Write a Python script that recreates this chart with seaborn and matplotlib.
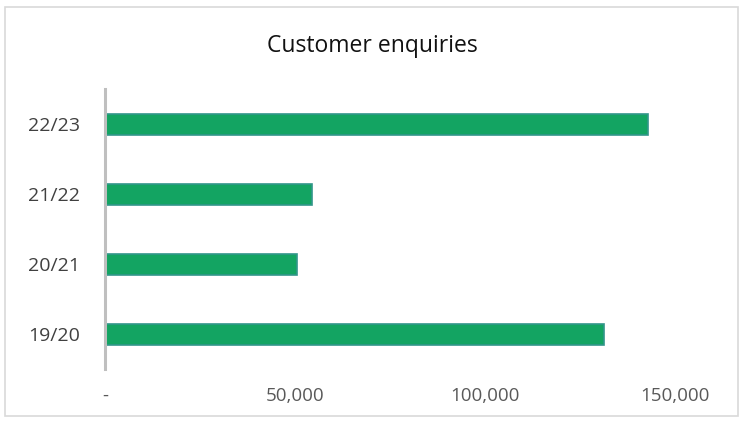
import matplotlib
matplotlib.use("Agg")
import matplotlib.pyplot as plt
import seaborn as sns
import pandas as pd
from matplotlib.ticker import FuncFormatter
from matplotlib.patches import Rectangle

years = ["22/23", "21/22", "20/21", "19/20"]
enquiries = [143000, 54500, 50500, 131300]
xticks = [0, 50000, 100000, 150000]

df = pd.DataFrame({"year": years, "enquiries": enquiries})

sns.set_theme(style="white")
plt.rcParams['font.family'] = ['Open Sans', 'DejaVu Sans']

fig = plt.figure(figsize=(7.45, 4.23), dpi=100)
ax = fig.add_axes([105/745, 1-369/423, (675-105)/745, (369-89)/423])

sns.barplot(data=df, y="year", x="enquiries", order=years, orient="h",
            color="#13a462", width=0.3, edgecolor="#32968a", linewidth=1.2,
            saturation=1, ax=ax)

ax.set_xlim(0, 150000)
ax.set_xticks(xticks)
ax.xaxis.set_major_formatter(FuncFormatter(lambda v, p: "-" if v == 0 else f"{int(v):,}"))
ax.set_xlabel("")
ax.set_ylabel("")
ax.tick_params(axis="x", length=0, labelsize=13.5, colors="#595959", pad=13)
ax.tick_params(axis="y", length=0, labelsize=14, colors="#404040", pad=18)
for s in ["top", "right", "bottom"]:
    ax.spines[s].set_visible(False)
ax.spines["left"].set_color("#bfbfbf")
ax.spines["left"].set_linewidth(2.2)
ax.grid(False)

fig.text(372.5/745, 1-52/423, "Customer enquiries", ha="center", va="baseline",
         fontsize=16.5, color="#111111")

fig.patches.append(Rectangle((5/745, 1-416/423), 733/745, 409/423,
                             transform=fig.transFigure, fill=False,
                             edgecolor="#d9d9d9", linewidth=1.2))

fig.savefig("out.png", dpi=100)
